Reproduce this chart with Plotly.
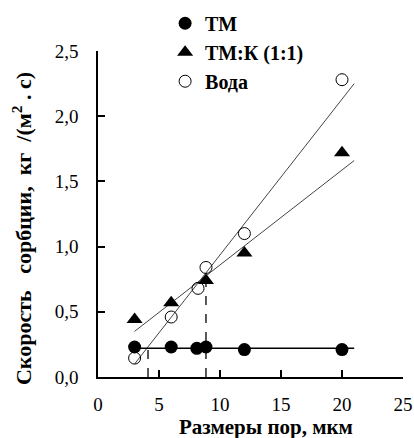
import plotly.graph_objects as go

# pore size, um
size_tm = [3, 6, 8.1, 8.85, 12, 20]
rate_tm = [0.23, 0.23, 0.22, 0.23, 0.21, 0.21]

size_tmk = [3, 6, 8.85, 12, 20]
rate_tmk = [0.44, 0.57, 0.74, 0.95, 1.72]

size_water = [3, 6, 8.2, 8.85, 12, 20]
rate_water = [0.145, 0.46, 0.68, 0.84, 1.10, 2.28]

# trend lines (ends)
fit_x = [3, 21]
fit_tm = [0.22, 0.22]
fit_tmk = [0.35, 1.66]
fit_water = [0.10, 2.25]

# dashed drop lines
drop_x = [4.1, 8.85]
drop_top = [0.22, 0.75]

serif = 'Liberation Serif'
sp = '\u00a0'

fig = go.Figure()

fig.add_trace(go.Scatter(x=fit_x, y=fit_water, mode='lines', showlegend=False,
                         line=dict(color='#444', width=1)))
fig.add_trace(go.Scatter(x=fit_x, y=fit_tmk, mode='lines', showlegend=False,
                         line=dict(color='#444', width=1)))
fig.add_trace(go.Scatter(x=fit_x, y=fit_tm, mode='lines', showlegend=False,
                         line=dict(color='black', width=1.5)))

for x, top in zip(drop_x, drop_top):
    fig.add_trace(go.Scatter(x=[x, x], y=[0, top], mode='lines', showlegend=False,
                             line=dict(color='black', width=1.3, dash='dash')))

fig.add_trace(go.Scatter(x=size_tm, y=rate_tm, mode='markers', name='ТМ',
                         marker=dict(symbol='circle', size=13, color='black')))
fig.add_trace(go.Scatter(x=size_tmk, y=rate_tmk, mode='markers', name='ТМ:К (1:1)',
                         marker=dict(symbol='triangle-up', size=14, color='black')))
fig.add_trace(go.Scatter(x=size_water, y=rate_water, mode='markers', name='Вода',
                         marker=dict(symbol='circle-open', size=12, color='black',
                                     line=dict(width=1))))

# axis titles as annotations so they sit where the original has them
fig.add_annotation(text='Размеры пор, мкм', xref='paper', yref='paper',
                   x=0.55, y=-0.153, xanchor='center', yanchor='middle', showarrow=False,
                   font=dict(family=serif, size=21, weight='bold'))
fig.add_annotation(text='Скорость' + sp * 3 + 'сорбции,' + sp * 2 + 'кг' + sp * 2 +
                        '/(м<sup>2</sup>' + sp + '.' + sp + 'с)',
                   xref='paper', yref='paper', x=-0.249, y=0.454, textangle=-90,
                   xanchor='center', yanchor='middle', showarrow=False,
                   font=dict(family=serif, size=22, weight='bold'))

fig.update_layout(
    width=414, height=438,
    margin=dict(l=98, r=11, t=51, b=61, autoexpand=False),
    plot_bgcolor='white', paper_bgcolor='white',
    separators=', ',
    font=dict(family=serif, size=19, color='black'),
    legend=dict(x=0.22, y=1.145, xanchor='left', yanchor='top',
                font=dict(family=serif, size=20, color='black', weight='bold'),
                itemwidth=30, tracegroupgap=0, bgcolor='rgba(0,0,0,0)'),
    xaxis=dict(range=[0, 25], dtick=5, showline=True, linecolor='black', linewidth=1.5,
               ticks='inside', ticklen=7, tickcolor='black', tickwidth=1.5,
               showgrid=False, zeroline=False, ticklabelstandoff=9, automargin=False),
    yaxis=dict(range=[0, 2.5], dtick=0.5, tickformat='.1f', showline=True,
               linecolor='black', linewidth=1.5, ticks='inside', ticklen=7,
               tickcolor='black', tickwidth=1.5, showgrid=False, zeroline=False,
               ticklabelstandoff=14, automargin=False),
)

# drop the default 8px page margin so the 414x438 figure fills the window
fig.write_html("out.html", config={'displayModeBar': False},
               post_script="document.body.style.margin='0';")
